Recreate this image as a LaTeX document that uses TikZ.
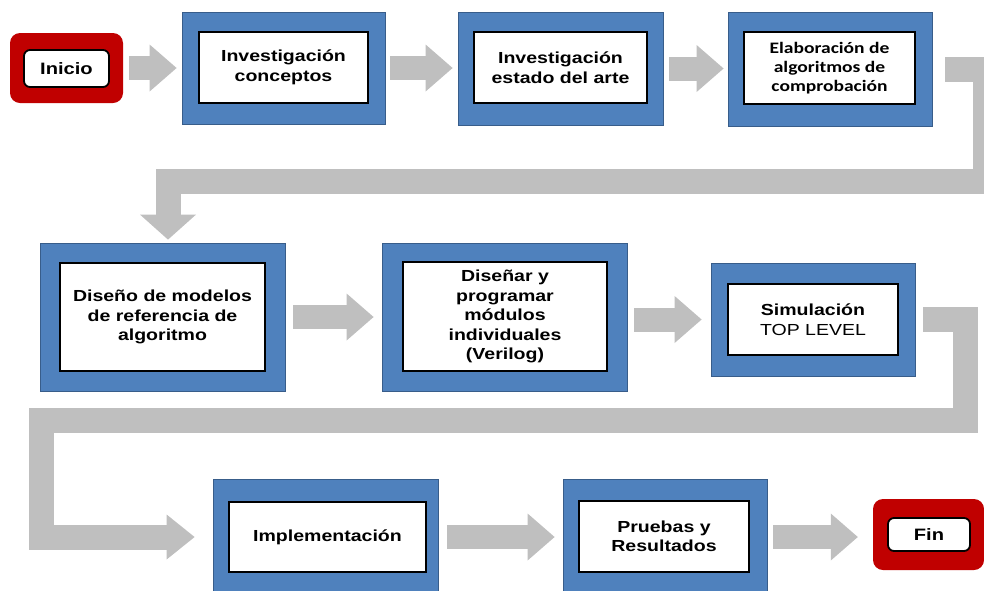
\documentclass[tikz,border=0pt]{standalone}
\usepackage{fontspec}
\setmainfont{Liberation Sans}[FakeStretch=1.22]
\newfontfamily\calfont{Carlito}[FakeStretch=1.22]
\usetikzlibrary{arrows.meta,calc}
\definecolor{boxblue}{RGB}{79,129,189}
\definecolor{boxedge}{RGB}{56,93,138}
\definecolor{arrowgray}{RGB}{191,191,191}
\definecolor{termred}{RGB}{192,0,0}
\begin{document}
\begin{tikzpicture}[x=1pt,y=-1pt,
 outerbox/.style={fill=boxblue, draw=boxedge, line width=0.8pt, inner sep=0pt},
 innerbox/.style={fill=white, draw=black, line width=1.8pt, inner sep=0pt, align=center, font=\fontsize{16}{19.5}\selectfont\bfseries},
 termouter/.style={fill=termred, rounded corners=10pt, inner sep=0pt},
 terminner/.style={fill=white, draw=black, line width=1.8pt, rounded corners=6pt, inner sep=0pt, font=\fontsize{16.5}{19}\selectfont\bfseries},
 blockarrow/.style={draw=arrowgray, line width=24pt, line join=miter, -{Triangle[length=27pt,width=47pt,line width=0pt]}},
 bentarrowa/.style={draw=arrowgray, line width=25pt, line join=miter, -{Triangle[length=25pt,width=56pt,line width=0pt]}},
 bentarrowb/.style={draw=arrowgray, line width=25pt, line join=miter, -{Triangle[length=28pt,width=45pt,line width=0pt]}}]
\useasboundingbox (0,0) rectangle (984,590);

% terminals
\node[termouter, minimum width=113pt, minimum height=70pt] (ini) at (66.5,68) {};
\node[terminner, minimum width=85pt, minimum height=37pt] (inii) at (66.5,68.5) {Inicio};
\node[termouter, minimum width=111pt, minimum height=71pt] (fin) at (928.5,534.5) {};
\node[terminner, minimum width=82pt, minimum height=33pt] (fini) at (929,534.5) {Fin};

% row 1
\node[outerbox, minimum width=203pt, minimum height=112pt] (b1) at (283.5,68) {};
\node[innerbox, minimum width=169pt, minimum height=71pt] (b1i) at (283.5,67.5) {Investigación\\conceptos};
\node[outerbox, minimum width=205pt, minimum height=113pt] (b2) at (560.5,68.5) {};
\node[innerbox, minimum width=173pt, minimum height=71pt] (b2i) at (560.5,67.5) {Investigación\\estado del arte};
\node[outerbox, minimum width=204pt, minimum height=114pt] (b3) at (830,69) {};
\node[innerbox, minimum width=171pt, minimum height=72pt, font=\calfont\fontsize{16}{19}\selectfont\bfseries] (b3i) at (829.5,68) {Elaboración de\\algoritmos de\\comprobación};

% row 2
\node[outerbox, minimum width=245pt, minimum height=148pt] (d1) at (162.5,317) {};
\node[innerbox, minimum width=205pt, minimum height=108pt] (d1i) at (162.5,317) {Diseño de modelos\\de referencia de\\algoritmo};
\node[outerbox, minimum width=245pt, minimum height=148pt] (d2) at (504.5,317) {};
\node[innerbox, minimum width=204pt, minimum height=109pt] (d2i) at (505,316.5) {Diseñar y\\programar\\módulos\\individuales\\(Verilog)};
\node[outerbox, minimum width=204pt, minimum height=113pt] (s) at (813,319.5) {};
\node[innerbox, minimum width=170pt, minimum height=71pt] (si) at (813,319.5) {Simulación\\\mdseries TOP LEVEL};

% row 3
\node[outerbox, minimum width=225pt, minimum height=116pt] (impl) at (325.5,537) {};
\node[innerbox, minimum width=197pt, minimum height=70pt] (impli) at (327.5,537) {Implementación};
\node[outerbox, minimum width=204pt, minimum height=116pt] (pr) at (665,537) {};
\node[innerbox, minimum width=170pt, minimum height=71pt] (pri) at (664,536.5) {Pruebas y\\Resultados};

% straight connectors
\draw[blockarrow] ([xshift=6pt]ini.east) -- ([xshift=-5pt]b1.west |- ini.east);
\draw[blockarrow] ([xshift=5pt]b1.east) -- ([xshift=-5pt]b2.west |- b1.east);
\draw[blockarrow] ([xshift=6pt]b2.east) -- ([xshift=-4pt]b3.west |- b2.east);
\draw[blockarrow] ([xshift=8pt]d1.east) -- ([xshift=-8pt]d2.west);
\draw[blockarrow] ([xshift=7pt]d2.east |- s.west) -- ([xshift=-9pt]s.west);
\draw[blockarrow] ([xshift=9pt]impl.east) -- ([xshift=-8pt]pr.west);
\draw[blockarrow] ([xshift=6pt]pr.east) -- ([xshift=-15pt]fin.west |- pr.east);

% bent connectors
\coordinate (k1) at (985,181.5);
\coordinate (k2) at (168,181.5);
\draw[bentarrowa] ([xshift=13pt]b3.east) -| (k1) -- (k2) -- ($(k2 |- d1.north)+(0,-3)$);
\coordinate (k3) at (965.5,420);
\coordinate (k4) at (41,420);
\draw[bentarrowb] ([xshift=8pt]s.east) -| (k3) -- (k4) |- ([xshift=-18pt]impl.west);
\end{tikzpicture}
\end{document}
